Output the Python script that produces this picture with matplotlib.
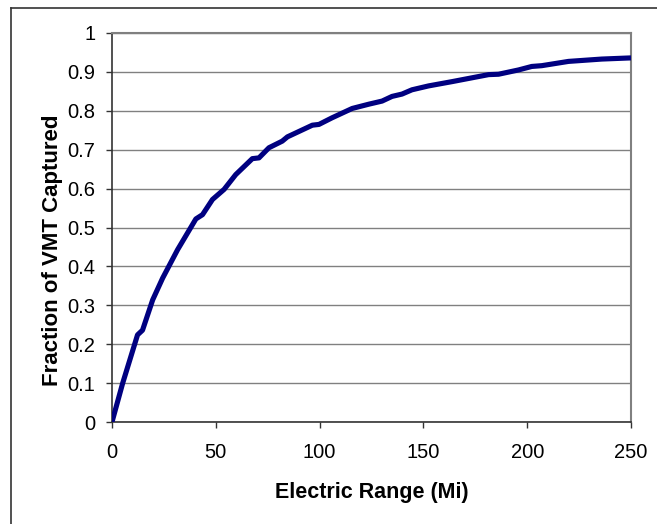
import matplotlib.pyplot as plt
from matplotlib.lines import Line2D

plt.rcParams['font.family'] = ['Liberation Sans', 'DejaVu Sans']

# 读图得到的数据
range_mi = [0, 5.1, 12.3, 14.7, 19.6, 24.4, 31.6, 40.4, 43.6, 48.4, 54, 59.6, 67.6,
            70.8, 75.6, 82, 84.5, 96.5, 99.7, 106, 115.7, 123.7, 130.1, 134.9,
            139.7, 144.5, 152.5, 163.8, 181.4, 186.2, 195.8, 202.2, 207, 219.9,
            235.9, 250]
vmt_frac = [0, 0.099, 0.224, 0.236, 0.314, 0.37, 0.443, 0.522, 0.533, 0.572, 0.598,
            0.636, 0.677, 0.679, 0.705, 0.722, 0.733, 0.763, 0.765, 0.782, 0.806,
            0.817, 0.825, 0.837, 0.843, 0.854, 0.864, 0.875, 0.893, 0.894, 0.905,
            0.914, 0.916, 0.927, 0.933, 0.936]
xticks = [0, 50, 100, 150, 200, 250]
yticks = [0, 0.1, 0.2, 0.3, 0.4, 0.5, 0.6, 0.7, 0.8, 0.9, 1]

fig = plt.figure(figsize=(6.57, 5.24), dpi=100)
ax = fig.add_axes([112/657, 1-422/524, (631-112)/657, (422-33)/524])

ax.plot(range_mi, vmt_frac, color='#000080', lw=3.7, solid_capstyle='butt',
        solid_joinstyle='round', zorder=3)

ax.set_xlim(0, 250)
ax.set_ylim(0, 1)
ax.set_xticks(xticks)
ax.set_yticks(yticks)
ax.set_yticklabels([('%g' % v) for v in yticks])
ax.grid(axis='y', color='#808080', lw=1)
ax.set_axisbelow(True)
ax.tick_params(labelsize=14.5, direction='out', length=4, color='#333333', width=1)
ax.tick_params(axis='x', pad=11)
ax.tick_params(axis='y', pad=8)
for s in ['top', 'right']:
    ax.spines[s].set_color('#808080')
    ax.spines[s].set_linewidth(1.5)
for s in ['left', 'bottom']:
    ax.spines[s].set_color('#333333')
    ax.spines[s].set_linewidth(1.2)

ax.set_xlabel('Electric Range (Mi)', fontsize=15.5, fontweight='bold')
ax.set_ylabel('Fraction of VMT Captured', fontsize=16, fontweight='bold')
ax.xaxis.set_label_coords(0.5, -0.155)
ax.yaxis.set_label_coords(-0.095, 0.442)

# 外框（只露出左边和上边）
fig.add_artist(Line2D([11/657, 11/657], [0, 1-8/524], color='#333333', lw=1.2))
fig.add_artist(Line2D([11/657, 1], [1-8/524, 1-8/524], color='#333333', lw=1.2))

plt.savefig('out.png', dpi=100)
